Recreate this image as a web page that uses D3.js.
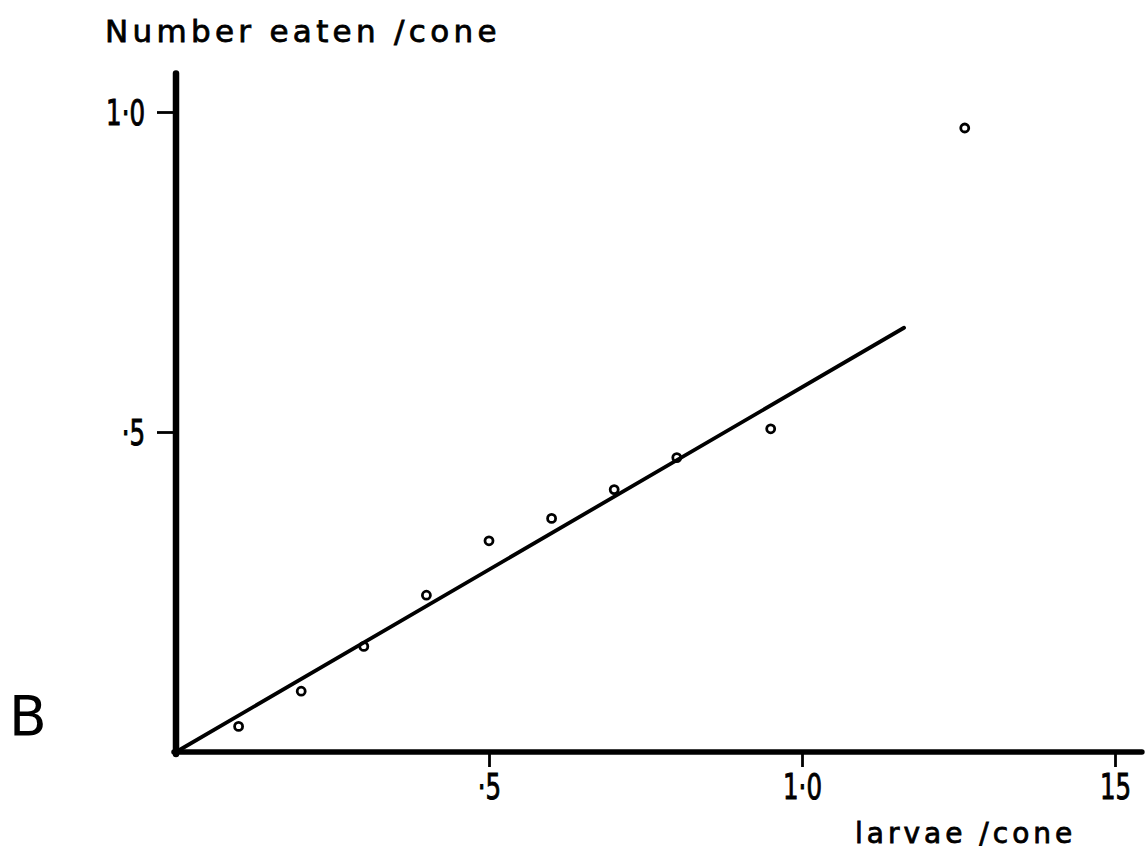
<!DOCTYPE html>
<html>
<head>
<meta charset="utf-8">
<script src="https://cdn.jsdelivr.net/npm/d3@7"></script>
<style>
  html, body { margin: 0; padding: 0; background: #fff; }
  svg { display: block; }
  text { font-family: "DejaVu Sans", "Liberation Sans", sans-serif; fill: #000; }
</style>
</head>
<body>
<script>
// Larvae offered per cone vs. number eaten per cone
const larvae = [0.1, 0.2, 0.3, 0.4, 0.5, 0.6, 0.7, 0.8, 0.95, 1.26];
const eaten  = [0.04, 0.095, 0.165, 0.245, 0.33, 0.365, 0.41, 0.46, 0.505, 0.975];

// Fitted line through the origin
const fitX = [0, 1.163];
const fitSlope = 0.57;

const xTicks = [0.5, 1.0, 1.5];
const xTickLabels = ["·5", "1·0", "15"];
const yTicks = [0.5, 1.0];
const yTickLabels = ["·5", "1·0"];

const W = 1145, H = 858;
const svg = d3.select("body").append("svg").attr("width", W).attr("height", H);

const x = d3.scaleLinear().domain([0, 1.5]).range([176, 1115]);
const y = d3.scaleLinear().domain([0, 1]).range([752, 112]);

// Narrow stencil-style numerals: squeeze each label horizontally
function squeeze(sel, k) {
  sel.each(function () {
    const w = this.getComputedTextLength();
    d3.select(this).attr("textLength", w * k).attr("lengthAdjust", "spacingAndGlyphs");
  });
}

// Y axis
const yAxis = d3.axisLeft(y)
  .tickValues(yTicks)
  .tickSize(19)
  .tickPadding(12)
  .tickFormat((d, i) => yTickLabels[i]);
const gy = svg.append("g").attr("transform", `translate(${x(0)},0)`).call(yAxis);
gy.select(".domain").remove();
gy.selectAll(".tick line").attr("stroke", "#000").attr("stroke-width", 2.8);
gy.selectAll(".tick text")
  .style("font-size", "36px").attr("dy", "0.36em")
  .attr("stroke", "#000").attr("stroke-width", 1)
  .call(squeeze, 0.68);
svg.append("line")
  .attr("x1", x(0)).attr("x2", x(0))
  .attr("y1", y(1.06)).attr("y2", y(0) + 2)
  .attr("stroke", "#000").attr("stroke-width", 6.5).attr("stroke-linecap", "round");

// X axis
const xAxis = d3.axisBottom(x)
  .tickValues(xTicks)
  .tickSize(15)
  .tickPadding(6)
  .tickFormat((d, i) => xTickLabels[i]);
const gx = svg.append("g").attr("transform", `translate(0,${y(0)})`).call(xAxis);
gx.select(".domain").remove();
gx.selectAll(".tick line").attr("stroke", "#000").attr("stroke-width", 2.8);
gx.selectAll(".tick text")
  .style("font-size", "36px")
  .attr("stroke", "#000").attr("stroke-width", 1)
  .call(squeeze, 0.68);
svg.append("line")
  .attr("x1", x(0) - 2).attr("x2", x(1.543))
  .attr("y1", y(0)).attr("y2", y(0))
  .attr("stroke", "#000").attr("stroke-width", 5.5).attr("stroke-linecap", "round");

// Regression line
svg.append("line")
  .attr("x1", x(fitX[0])).attr("y1", y(fitX[0] * fitSlope))
  .attr("x2", x(fitX[1])).attr("y2", y(fitX[1] * fitSlope))
  .attr("stroke", "#000").attr("stroke-width", 3.8).attr("stroke-linecap", "round");

// Observations
svg.append("g").selectAll("circle")
  .data(larvae.map((d, i) => [d, eaten[i]]))
  .join("circle")
  .attr("cx", d => x(d[0]))
  .attr("cy", d => y(d[1]))
  .attr("r", 4)
  .attr("fill", "none")
  .attr("stroke", "#000")
  .attr("stroke-width", 2.8);

// Axis titles and panel letter
svg.append("text").attr("x", 105).attr("y", 42)
  .style("font-size", "31px").style("letter-spacing", "4.3px")
  .attr("stroke", "#000").attr("stroke-width", 0.8)
  .text("Number  eaten /cone");
svg.append("text").attr("x", 855).attr("y", 843)
  .style("font-size", "28px").style("letter-spacing", "4px")
  .attr("stroke", "#000").attr("stroke-width", 0.8)
  .text("larvae /cone");
svg.append("text").attr("x", 9).attr("y", 735)
  .style("font-size", "55px").text("B");
</script>
</body>
</html>
